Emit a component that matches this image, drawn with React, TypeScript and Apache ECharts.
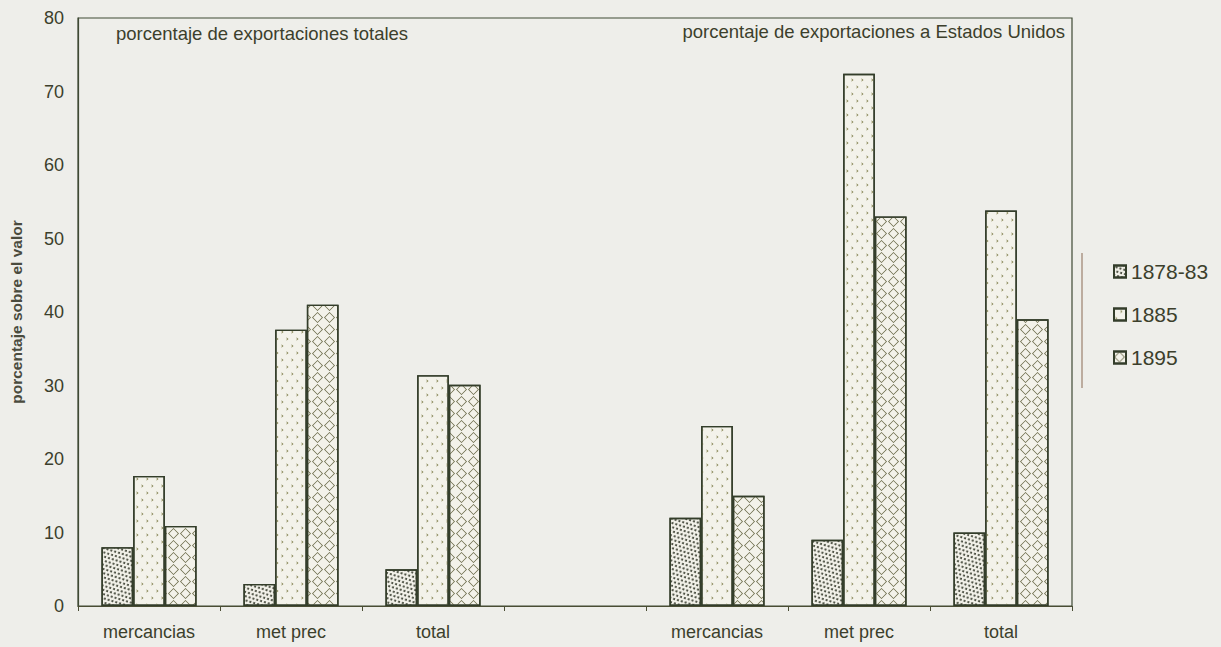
import React, { useEffect, useRef } from "react";
import * as echarts from "echarts";

const categories = ["mercancias", "met prec", "total", "", "mercancias", "met prec", "total"];
const seriesNames = ["1878-83", "1885", "1895"];
const values1878 = [8, 3, 5, null, 12, 9, 10];
const values1885 = [17.7, 37.6, 31.4, null, 24.5, 72.4, 53.8];
const values1895 = [10.9, 41, 30.1, null, 15, 53, 39];
const yTicks = { min: 0, max: 80, interval: 10 };
const leftTitle = "porcentaje de exportaciones totales";
const rightTitle = "porcentaje de exportaciones a Estados Unidos";
const yName = "porcentaje sobre el valor";

const BG = "#eeeeea";
const INK = "#3c3f2c";
const FONT = "'Liberation Sans', Arial, sans-serif";

const decals: any[] = [
  {
    symbol: "circle",
    symbolSize: 1,
    color: "#33382a",
    backgroundColor: "#f3f2ea",
    dashArrayX: [[2, 2], [0, 2, 2, 0]],
    dashArrayY: [2, 1.5],
    rotation: 0.3,
  },
  {
    symbol: "path://M0,0L8,6L0,12L1.5,6Z",
    symbolSize: 0.55,
    color: "#8c8a5c",
    backgroundColor: "#f4f3ed",
    dashArrayX: [[5, 5], [0, 5, 5, 0]],
    dashArrayY: [6, 1],
  },
  {
    symbol: "path://M5,0L10,5L5,10L0,5ZM5,1L1,5L5,9L9,5Z",
    symbolSize: 1,
    color: "#6a6a48",
    backgroundColor: "#f2f1ea",
    dashArrayX: [[11, 0.5]],
    dashArrayY: [11, 0.5],
  },
];

export default function App() {
  const ref = useRef<HTMLDivElement>(null);
  useEffect(() => {
    if (!ref.current) return;
    const chart = echarts.init(ref.current, null, { renderer: "svg" });
    const data = [values1878, values1885, values1895];
    chart.setOption({
      animation: false,
      backgroundColor: BG,
      textStyle: { fontFamily: FONT, color: INK },
      grid: {
        left: 75,
        top: 18,
        right: 149,
        bottom: 41,
        show: true,
        borderColor: "#3f4a34",
        borderWidth: 1.2,
        backgroundColor: "transparent",
      },
      legend: {
        orient: "vertical",
        left: 1108,
        top: 256,
        itemWidth: 12,
        itemHeight: 12,
        itemGap: 22,
        icon: "rect",
        data: seriesNames,
        textStyle: { fontSize: 21, color: INK, fontFamily: FONT },
      },
      xAxis: {
        type: "category",
        data: categories,
        axisLine: { lineStyle: { color: "#4a4d34", width: 1.2 } },
        axisTick: { show: true, alignWithLabel: false, length: 5, lineStyle: { color: "#4a4d34" } },
        axisLabel: { fontSize: 18, color: INK, margin: 17, fontFamily: FONT },
        splitLine: { show: false },
      },
      yAxis: {
        type: "value",
        min: yTicks.min,
        max: yTicks.max,
        interval: yTicks.interval,
        name: yName,
        nameLocation: "middle",
        nameGap: 54,
        nameTextStyle: { fontSize: 15.5, fontWeight: "bold", color: "#4a4b3e", fontFamily: FONT },
        axisLine: { show: true, lineStyle: { color: "#3f4a34", width: 1.2 } },
        axisTick: { show: false },
        axisLabel: { fontSize: 18, color: INK, margin: 14, fontFamily: FONT },
        splitLine: { show: false },
      },
      series: seriesNames.map((name, i) => ({
        name,
        type: "bar",
        data: data[i],
        barGap: "0%",
        barCategoryGap: "33%",
        itemStyle: {
          color: "#f3f2ea",
          borderColor: "#333d2a",
          borderWidth: 1.4,
          decal: decals[i],
        },
      })),
      graphic: [
        {
          type: "text",
          left: 116,
          top: 24,
          style: { text: leftTitle, fontSize: 18.5, fill: INK, fontFamily: FONT },
        },
        {
          type: "text",
          right: 156,
          top: 22,
          style: { text: rightTitle, fontSize: 18.5, fill: INK, fontFamily: FONT },
        },
        {
          type: "line",
          shape: { x1: 1082, y1: 253, x2: 1082, y2: 388 },
          style: { stroke: "#8a6a55", lineWidth: 1 },
        },
      ],
    });
    return () => chart.dispose();
  }, []);
  return (
    <div
      ref={ref}
      style={{ position: "absolute", left: 0, top: 0, width: 1221, height: 647 }}
    />
  );
}
